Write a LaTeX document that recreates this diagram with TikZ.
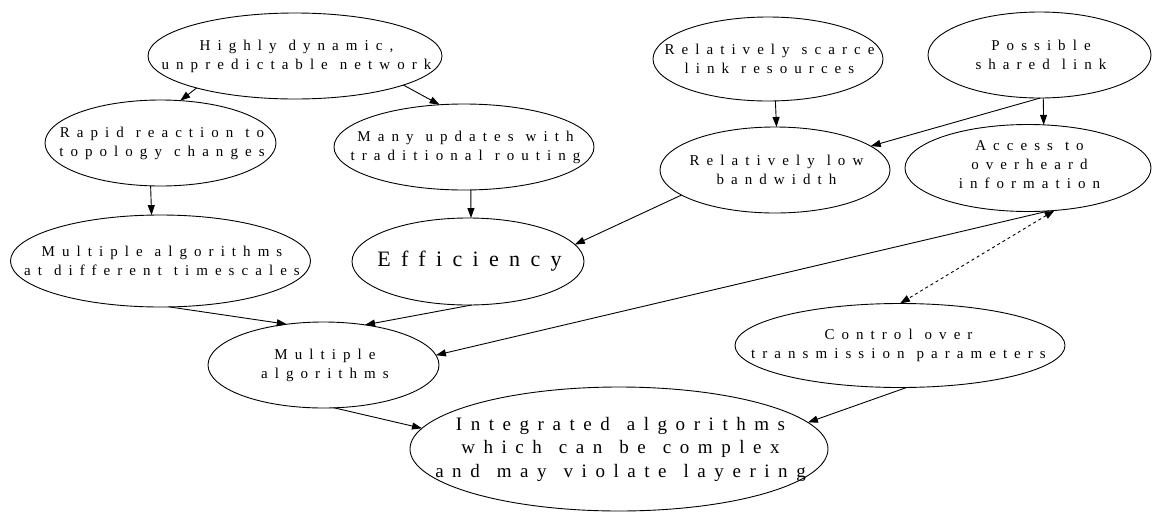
\documentclass[tikz,border=0pt]{standalone}
\usepackage{fontspec}
\setmainfont{Liberation Serif}
\newfontfamily\spaced[LetterSpace=47]{Liberation Serif}
\newfontfamily\spacedbig[LetterSpace=45]{Liberation Serif}
\usetikzlibrary{shapes.geometric,arrows.meta}

% label fonts: letter-spaced serif with wide word gaps
\newcommand\lblfont{\spaced\fontsize{15}{19}\selectfont\spaceskip 12pt\relax}
\newcommand\efffont{\spaced\fontsize{22}{26}\selectfont}
\newcommand\intfont{\spacedbig\fontsize{19}{23.5}\selectfont\spaceskip 17pt\relax}

\tikzset{
  bubble/.style={draw, ellipse, inner sep=0pt, outer sep=0pt, line width=0.9pt},
  txt/.style={align=center, inner sep=0pt, xshift=1.5pt, font=\lblfont},
  link/.style={line width=0.9pt, -{Triangle[length=10pt,width=7pt]}},
  dlink/.style={line width=0.9pt, dashed,
    {Triangle[length=10pt,width=7pt]}-{Triangle[length=10pt,width=7pt]}},
}

\begin{document}
\begin{tikzpicture}[x=1pt, y=-1pt]
\useasboundingbox (0,0) rectangle (1152,512);

% ellipses
\node[bubble, minimum width=294pt, minimum height=86pt] (hd) at (295,56) {};
\node[bubble, minimum width=231pt, minimum height=86pt] (rr) at (160.5,143) {};
\node[bubble, minimum width=260pt, minimum height=86pt] (mu) at (464,147) {};
\node[bubble, minimum width=300pt, minimum height=92pt] (mt) at (160.5,261) {};
\node[bubble, minimum width=232pt, minimum height=87pt] (eff) at (468,261.5) {};
\node[bubble, minimum width=230pt, minimum height=84pt] (rs) at (768,59) {};
\node[bubble, minimum width=223pt, minimum height=86pt] (ps) at (1039.5,55) {};
\node[bubble, minimum width=230pt, minimum height=86pt] (rl) at (775,170) {};
\node[bubble, minimum width=246pt, minimum height=87pt] (ao) at (1028,168) {};
\node[bubble, minimum width=231pt, minimum height=86pt] (ma) at (323.5,365) {};
\node[bubble, minimum width=330pt, minimum height=84pt] (ctrl) at (900,345.5) {};
\node[bubble, minimum width=418pt, minimum height=124pt] (int) at (619,449) {};

% labels
\node[txt] (hd-t) at (hd) {Highly dynamic,\\unpredictable network};
\node[txt] (rr-t) at (rr) {Rapid reaction to\\topology changes};
\node[txt] (mu-t) at (mu) {Many updates with\\traditional routing};
\node[txt] (mt-t) at (mt) {Multiple algorithms\\at different timescales};
\node[txt, font=\efffont] (eff-t) at (eff) {Efficiency};
\node[txt] (rs-t) at (rs) {Relatively scarce\\link resources};
\node[txt] (ps-t) at (ps) {Possible\\shared link};
\node[txt] (rl-t) at (rl) {Relatively low\\bandwidth};
\node[txt, yshift=3pt] (ao-t) at (ao) {Access to\\overheard\\information};
\node[txt] (ma-t) at (ma) {Multiple\\algorithms};
\node[txt, xshift=-3pt] (ctrl-t) at (ctrl) {Control over\\transmission parameters};
\node[txt, font=\intfont] (int-t) at (int)
  {Integrated algorithms\\which can be complex\\and may violate layering};

% connectors
\draw[link] (hd.198.2) -- (rr.65.1);
\draw[link] (hd.345.5) -- (mu.120.6);
\draw[link] (rr.257.5) -- (mt.101.7);
\draw[link] (mu.279.2) -- (eff.86.1);
\draw[link] (rs.280.8) -- (rl.88.7);
\draw[link] (ps.275.3) -- (ao.70.8);
\draw[link] (ps.271.3) -- (rl.14.7);
\draw[link] (rl.195.3) -- (eff.9.4);
\draw[link] (mt.281.7) -- (ma.132.4);
\draw[link] (eff.275) -- (ma.44.7);
\draw[link] (ao.296.6) -- (ma.5.9);
\draw[link] (ma.284.6) -- (int.174.4);
\draw[link] (ctrl.279.6) -- (int.8.8);
\draw[dlink] (ao.302.1) -- (ctrl.90);
\end{tikzpicture}
\end{document}
